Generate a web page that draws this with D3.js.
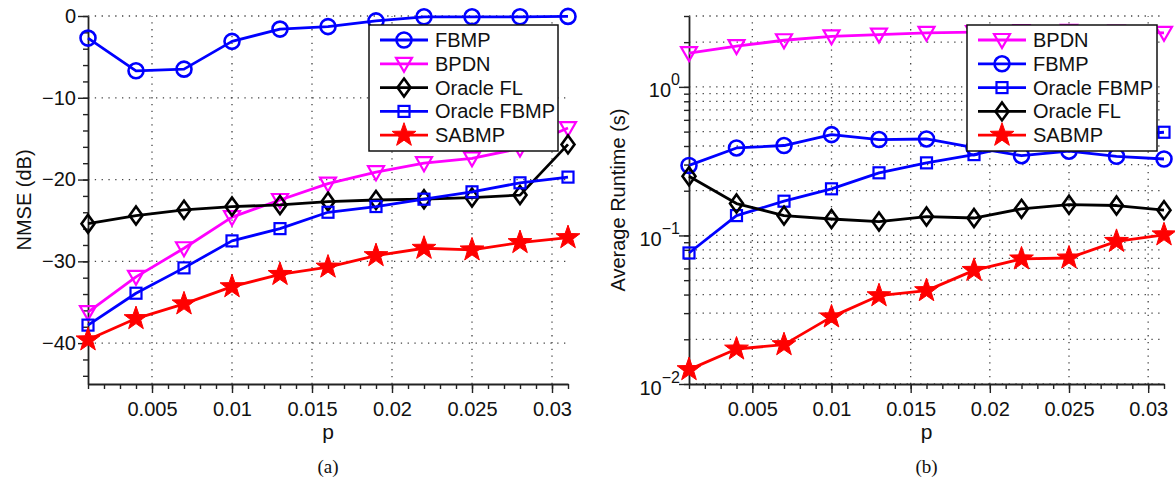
<!DOCTYPE html>
<html>
<head>
<meta charset="utf-8">
<script src="https://cdn.jsdelivr.net/npm/d3@7"></script>
<style>
  body { margin: 0; background: #fff; }
  svg { font-family: "Liberation Sans", Arial, sans-serif; }
</style>
</head>
<body>
<div id="chart"></div>
<script>
// sparsity values (x axis, both panels)
var pVals = [0.001, 0.004, 0.007, 0.010, 0.013, 0.016, 0.019, 0.022, 0.025, 0.028, 0.031];
var xTicks = [0.005, 0.01, 0.015, 0.02, 0.025, 0.03];
var xTickLabels = ["0.005", "0.01", "0.015", "0.02", "0.025", "0.03"];

// (a) NMSE in dB
var nmseFBMP       = [-2.7, -6.7, -6.5, -3.1, -1.6, -1.3, -0.6, -0.1, -0.1, -0.1, -0.05];
var nmseBPDN       = [-36.2, -31.9, -28.4, -24.6, -22.5, -20.5, -19.1, -18.0, -17.4, -16.2, -13.7];
var nmseOracleFL   = [-25.4, -24.4, -23.7, -23.3, -23.1, -22.7, -22.5, -22.4, -22.2, -21.9, -15.7];
var nmseOracleFBMP = [-37.8, -33.9, -30.8, -27.5, -26.0, -24.0, -23.3, -22.4, -21.5, -20.4, -19.7];
var nmseSABMP      = [-39.6, -37.0, -35.2, -33.1, -31.6, -30.7, -29.3, -28.4, -28.6, -27.7, -27.1];
var nmseTicks = [0, -10, -20, -30, -40];

// (b) average runtime in seconds
var rtBPDN       = [1.69, 1.88, 2.06, 2.19, 2.25, 2.31, 2.34, 2.37, 2.38, 2.36, 2.31];
var rtFBMP       = [0.296, 0.388, 0.403, 0.477, 0.442, 0.446, 0.39, 0.344, 0.369, 0.341, 0.327];
var rtOracleFBMP = [0.0762, 0.136, 0.170, 0.206, 0.264, 0.308, 0.350, 0.41, 0.44, 0.47, 0.495];
var rtOracleFL   = [0.250, 0.164, 0.136, 0.129, 0.124, 0.134, 0.131, 0.151, 0.161, 0.159, 0.148];
var rtSABMP      = [0.0125, 0.0172, 0.0184, 0.0283, 0.0393, 0.0425, 0.0582, 0.0695, 0.0705, 0.0912, 0.101];
var rtTickExps = [0, -1, -2];

var svg = d3.select("#chart").append("svg")
  .attr("width", 1175).attr("height", 479);

// marker path generators, centred on 0,0
var markers = {
  circle: function(g, c) {
    g.append("circle").attr("r", 7.5).attr("fill", "none")
      .attr("stroke", c).attr("stroke-width", 2.6);
  },
  triangle: function(g, c) {
    g.append("path").attr("d", "M-8,-6L8,-6L0,8Z").attr("fill", "none")
      .attr("stroke", c).attr("stroke-width", 2.2).attr("stroke-linejoin", "miter");
  },
  diamond: function(g, c) {
    g.append("path").attr("d", "M0,-9L6.5,0L0,9L-6.5,0Z").attr("fill", "none")
      .attr("stroke", c).attr("stroke-width", 2.6);
  },
  square: function(g, c) {
    g.append("rect").attr("x", -5.5).attr("y", -5.5).attr("width", 11).attr("height", 11)
      .attr("fill", "none").attr("stroke", c).attr("stroke-width", 2.2);
  },
  star: function(g, c) {
    var pts = [];
    for (var i = 0; i < 10; i++) {
      var r = i % 2 === 0 ? 12.5 : 5;
      var a = -Math.PI / 2 + i * Math.PI / 5;
      pts.push([r * Math.cos(a), r * Math.sin(a)]);
    }
    g.append("path").attr("d", "M" + pts.join("L") + "Z").attr("fill", c).attr("stroke", c)
      .attr("stroke-width", 1);
  }
};

function drawPanel(opt) {
  var x = d3.scaleLinear().domain([0.001, 0.031]).range([opt.x0, opt.x1]);
  var y = opt.y;
  var g = svg.append("g");

  // dotted grid
  g.selectAll(".gx").data(xTicks).enter().append("line")
    .attr("x1", function(d) { return x(d); }).attr("x2", function(d) { return x(d); })
    .attr("y1", 384).attr("y2", 16)
    .attr("stroke", "#444").attr("stroke-width", 1.3).attr("stroke-dasharray", "1.3,5.5");
  g.selectAll(".gy").data(opt.gridY).enter().append("line")
    .attr("x1", opt.x0).attr("x2", opt.x1)
    .attr("y1", function(d) { return y(d); }).attr("y2", function(d) { return y(d); })
    .attr("stroke", "#444").attr("stroke-width", 1.3).attr("stroke-dasharray", "1.3,5.5");

  // axes
  var minorX = d3.range(1, 32).map(function(i) { return i / 1000; });
  g.append("g").attr("transform", "translate(0,384)")
    .call(d3.axisBottom(x).tickValues(minorX).tickSize(5).tickSizeOuter(0).tickFormat(""))
    .call(function(a) { a.select(".domain").remove(); a.selectAll("line").attr("stroke", "#222").attr("stroke-width", 1.4); });
  g.append("g").attr("transform", "translate(0,384)")
    .call(d3.axisBottom(x).tickValues(xTicks).tickSize(9).tickSizeOuter(0)
      .tickFormat(function(d, i) { return xTickLabels[i]; }))
    .call(function(a) {
      a.select(".domain").attr("stroke", "#222").attr("stroke-width", 1.8);
      a.selectAll("line").attr("stroke", "#222").attr("stroke-width", 1.4);
      a.selectAll("text").attr("font-size", 20).attr("fill", "#111")
        .attr("font-family", "Liberation Sans, Arial, sans-serif").attr("dy", "1.0em");
    });

  g.append("g").attr("transform", "translate(" + opt.x0 + ",0)")
    .call(d3.axisLeft(y).tickValues(opt.minorY).tickSize(5).tickSizeOuter(0).tickFormat(""))
    .call(function(a) { a.select(".domain").remove(); a.selectAll("line").attr("stroke", "#222").attr("stroke-width", 1.4); });
  var ya = g.append("g").attr("transform", "translate(" + opt.x0 + ",0)")
    .call(d3.axisLeft(y).tickValues(opt.majorY).tickSize(10).tickSizeOuter(0).tickFormat(opt.yFormat))
    .call(function(a) {
      a.select(".domain").attr("stroke", "#222").attr("stroke-width", 1.8);
      a.selectAll("line").attr("stroke", "#222").attr("stroke-width", 1.4);
      a.selectAll("text").attr("font-size", 20).attr("fill", "#111")
        .attr("font-family", "Liberation Sans, Arial, sans-serif").attr("x", -12);
    });
  if (opt.supY) opt.supY(ya);

  // series
  opt.series.forEach(function(s) {
    var line = d3.line().x(function(d, i) { return x(pVals[i]); }).y(function(d) { return y(d); });
    g.append("path").datum(s.values).attr("d", line).attr("fill", "none")
      .attr("stroke", s.color).attr("stroke-width", 2.8).attr("stroke-linejoin", "round");
    s.values.forEach(function(v, i) {
      var m = g.append("g").attr("transform", "translate(" + x(pVals[i]) + "," + y(v) + ")");
      markers[s.marker](m, s.color);
    });
  });

  // legend
  var lg = g.append("g").attr("transform", "translate(" + opt.legend[0] + "," + opt.legend[1] + ")");
  lg.append("rect").attr("width", opt.legend[2]).attr("height", 126)
    .attr("fill", "#fff").attr("stroke", "#111").attr("stroke-width", 1.5);
  opt.legendOrder.forEach(function(name, i) {
    var s = opt.series.filter(function(d) { return d.name === name; })[0];
    var yy = 15 + i * 23.8;
    lg.append("line").attr("x1", 11).attr("x2", 59).attr("y1", yy).attr("y2", yy)
      .attr("stroke", s.color).attr("stroke-width", 2.8);
    markers[s.marker](lg.append("g").attr("transform", "translate(35," + yy + ")"), s.color);
    lg.append("text").attr("x", 66).attr("y", yy + 7).attr("font-size", 20).attr("fill", "#111").text(name);
  });

  // labels
  svg.append("text").attr("transform", "translate(" + opt.ylabX + ",200) rotate(-90)")
    .attr("text-anchor", "middle").attr("font-size", 20).attr("fill", "#111").text(opt.ylabel);
  svg.append("text").attr("x", (opt.x0 + opt.x1) / 2).attr("y", 439)
    .attr("text-anchor", "middle").attr("font-size", 21).attr("fill", "#111").text("p");
  svg.append("text").attr("x", (opt.x0 + opt.x1) / 2).attr("y", 473)
    .attr("text-anchor", "middle").attr("font-size", 19).attr("fill", "#111")
    .attr("font-family", "Liberation Serif, Times New Roman, serif").text(opt.caption);
}

// panel (a)
var yA = d3.scaleLinear().domain([-45, 0]).range([384, 16]);
drawPanel({
  x0: 88, x1: 568, y: yA,
  majorY: nmseTicks,
  minorY: d3.range(-44, 1, 2),
  gridY: nmseTicks,
  yFormat: d3.format("d"),
  ylabel: "NMSE (dB)", ylabX: 31, caption: "(a)",
  legend: [369, 25, 189],
  legendOrder: ["FBMP", "BPDN", "Oracle FL", "Oracle FBMP", "SABMP"],
  series: [
    { name: "FBMP", values: nmseFBMP, color: "#0000ff", marker: "circle" },
    { name: "BPDN", values: nmseBPDN, color: "#ff00ff", marker: "triangle" },
    { name: "Oracle FL", values: nmseOracleFL, color: "#000000", marker: "diamond" },
    { name: "Oracle FBMP", values: nmseOracleFBMP, color: "#0000ff", marker: "square" },
    { name: "SABMP", values: nmseSABMP, color: "#ff0000", marker: "star" }
  ]
});

// panel (b)
var yB = d3.scaleLog().domain([0.01, 3]).range([384, 16]);
var logMinor = [];
[0.01, 0.1, 1].forEach(function(b) {
  for (var k = 1; k <= 9; k++) { if (b * k <= 3.0001) logMinor.push(b * k); }
});
drawPanel({
  x0: 689, x1: 1164, y: yB,
  majorY: rtTickExps.map(function(e) { return Math.pow(10, e); }),
  minorY: logMinor,
  gridY: logMinor,
  yFormat: function() { return ""; },
  supY: function(a) {
    a.selectAll(".tick text").each(function(d, i) {
      var t = d3.select(this);
      t.attr("dy", "0.5em").attr("x", -9);
      t.append("tspan").text("10");
      t.append("tspan").attr("dy", "-0.75em").attr("font-size", 16)
        .text(rtTickExps[i] === 0 ? "0" : "\u2212" + Math.abs(rtTickExps[i]));
    });
  },
  ylabel: "Average Runtime (s)", ylabX: 625, caption: "(b)",
  legend: [967, 25, 190],
  legendOrder: ["BPDN", "FBMP", "Oracle FBMP", "Oracle FL", "SABMP"],
  series: [
    { name: "BPDN", values: rtBPDN, color: "#ff00ff", marker: "triangle" },
    { name: "FBMP", values: rtFBMP, color: "#0000ff", marker: "circle" },
    { name: "Oracle FBMP", values: rtOracleFBMP, color: "#0000ff", marker: "square" },
    { name: "Oracle FL", values: rtOracleFL, color: "#000000", marker: "diamond" },
    { name: "SABMP", values: rtSABMP, color: "#ff0000", marker: "star" }
  ]
});
</script>
</body>
</html>
